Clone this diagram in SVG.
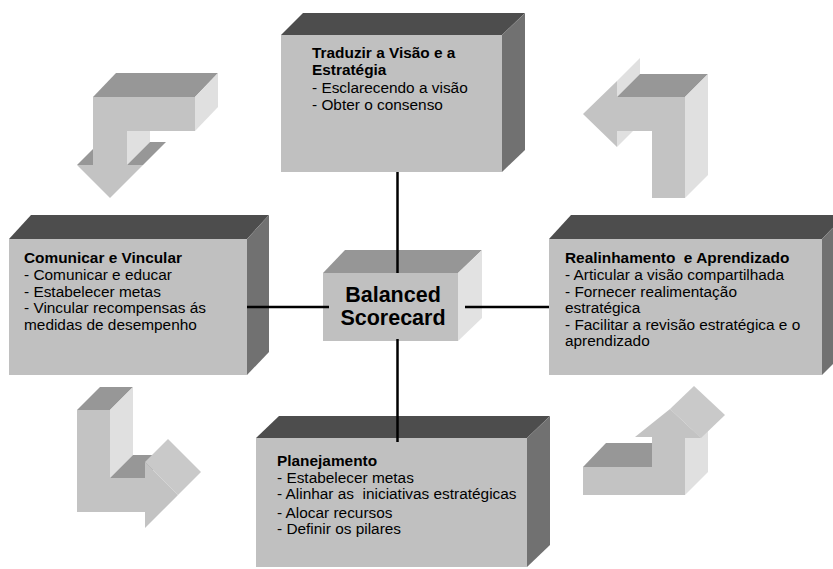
<svg xmlns="http://www.w3.org/2000/svg" width="833" height="569" viewBox="0 0 833 569">
  <style>
    .bx-front { fill: #c0c0c0; }
    .bx-top { fill: #4d4d4d; }
    .bx-side { fill: #717171; }
    .c-top { fill: #969696; }
    .c-side { fill: #e2e2e2; }
    .ar-front { fill: #c3c3c3; }
    .ar-top { fill: #979797; }
    .ar-side { fill: #e0e0e0; }
    .ar-slant { fill: #c9c9c9; }
    .t { font-family: "Liberation Sans", Arial, sans-serif; font-size: 15.4px; fill: #000; white-space: pre; }
    .b { font-weight: bold; }
    .ctr { font-family: "Liberation Sans", Arial, sans-serif; font-size: 21.5px; font-weight: bold; fill: #000; text-anchor: middle; }
    .link { stroke: #000; stroke-width: 2.5; fill: none; }
  </style>

  <!-- cycle arrows between the perspectives -->
  <g id="arrow-top-left">
    <polygon class="ar-top" points="93,97 116,73 218,73 195,97"/>
    <polygon class="ar-side" points="195,97 218,73 218,107 195,131"/>
    <polygon class="ar-side" points="127,131 150,108 150,142 127,165"/>
    <polygon class="ar-top" points="127,165 143,165 166,142 150,142"/>
    <polygon class="ar-top" points="77,165 93,165 116,142 100,142"/>
    <polygon class="ar-front" points="93,97 195,97 195,131 127,131 127,165 143,165 110,198 77,165 93,165"/>
  </g>

  <g id="arrow-top-right">
    <polygon class="ar-side" points="617,81 640,58 640,74 617,97"/>
    <polygon class="ar-top" points="617,97 640,74 708,74 685,97"/>
    <polygon class="ar-side" points="617,131 640,108 640,124 617,147"/>
    <polygon class="ar-side" points="685,97 708,74 708,175 685,198"/>
    <polygon class="ar-front" points="583,114 617,81 617,97 685,97 685,198 652,198 652,131 617,131 617,147"/>
  </g>

  <g id="arrow-bottom-left">
    <polygon class="ar-top" points="77,410 100,387 133,387 110,410"/>
    <polygon class="ar-side" points="110,410 133,387 133,455 110,478"/>
    <polygon class="ar-top" points="110,478 133,455 168,455 145,478"/>
    <polygon class="ar-slant" points="145,462 168,439 201,472 178,495"/>
    <polygon class="ar-front" points="77,410 110,410 110,478 145,478 145,462 178,495 145,528 145,512 77,512"/>
  </g>

  <g id="arrow-bottom-right">
    <polygon class="ar-top" points="583,467 606,443 675,443 652,467"/>
    <polygon class="ar-side" points="685,438 708,415 708,472 685,495"/>
    <polygon class="ar-slant" points="670,409 694,386 725,415 701,438"/>
    <polygon class="ar-front" points="583,467 652,467 652,437 635,437 670,409 701,438 685,438 685,495 583,495"/>
  </g>

  <!-- perspective boxes -->
  <g id="node-traduzir">
    <polygon class="bx-top" points="281,35 303,13 525,13 502,35"/>
    <polygon class="bx-side" points="502,35 525,13 525,150 502,172"/>
    <rect class="bx-front" x="281" y="35" width="221" height="137"/>
    <text class="t b" x="312" y="58">Traduzir a Visão e a</text>
    <text class="t b" x="312" y="75">Estratégia</text>
    <text class="t" x="312" y="93">- Esclarecendo a visão</text>
    <text class="t" x="312" y="110">- Obter o consenso</text>
  </g>

  <g id="node-comunicar">
    <polygon class="bx-top" points="9,239 31,215 269,215 247,239"/>
    <polygon class="bx-side" points="247,239 269,215 269,352 247,375"/>
    <rect class="bx-front" x="9" y="239" width="238" height="136"/>
    <text class="t b" x="24" y="263">Comunicar e Vincular</text>
    <text class="t" x="24" y="280">- Comunicar e educar</text>
    <text class="t" x="24" y="296.5">- Estabelecer metas</text>
    <text class="t" x="24" y="313">- Vincular recompensas ás</text>
    <text class="t" x="24" y="329.5">medidas de desempenho</text>
  </g>

  <g id="node-realinhamento">
    <polygon class="bx-top" points="549,239 571,215 845,215 822,239"/>
    <polygon class="bx-side" points="822,239 845,215 845,352 822,375"/>
    <rect class="bx-front" x="549" y="239" width="273" height="136"/>
    <text class="t b" x="565" y="263">Realinhamento  e Aprendizado</text>
    <text class="t" x="565" y="280">- Articular a visão compartilhada</text>
    <text class="t" x="565" y="296.5">- Fornecer realimentação</text>
    <text class="t" x="565" y="313">estratégica</text>
    <text class="t" x="565" y="329.5">- Facilitar a revisão estratégica e o</text>
    <text class="t" x="565" y="346">aprendizado</text>
  </g>

  <g id="node-planejamento">
    <polygon class="bx-top" points="256,438 279,416 550,416 527,438"/>
    <polygon class="bx-side" points="527,438 550,416 550,545 527,567"/>
    <rect class="bx-front" x="256" y="438" width="271" height="129"/>
    <text class="t b" x="277" y="466">Planejamento</text>
    <text class="t" x="277" y="482.5">- Estabelecer metas</text>
    <text class="t" x="277" y="499">- Alinhar as  iniciativas estratégicas</text>
    <text class="t" x="277" y="517.5">- Alocar recursos</text>
    <text class="t" x="277" y="534">- Definir os pilares</text>
  </g>

  <g id="node-balanced-scorecard">
    <polygon class="c-top" points="323,273 345,250 482,250 458,273"/>
    <polygon class="c-side" points="458,273 482,250 482,318 458,341"/>
    <rect class="bx-front" x="323" y="273" width="135" height="68"/>
    <text class="ctr" x="393" y="302">Balanced</text>
    <text class="ctr" x="393" y="325">Scorecard</text>
  </g>

  <!-- links from the scorecard to each perspective -->
  <g id="connectors">
    <line class="link" x1="397.5" y1="172" x2="397.5" y2="273"/>
    <line class="link" x1="397.5" y1="339" x2="397.5" y2="442"/>
    <line class="link" x1="247" y1="307" x2="329" y2="307"/>
    <line class="link" x1="465" y1="307" x2="549" y2="307"/>
  </g>
</svg>
